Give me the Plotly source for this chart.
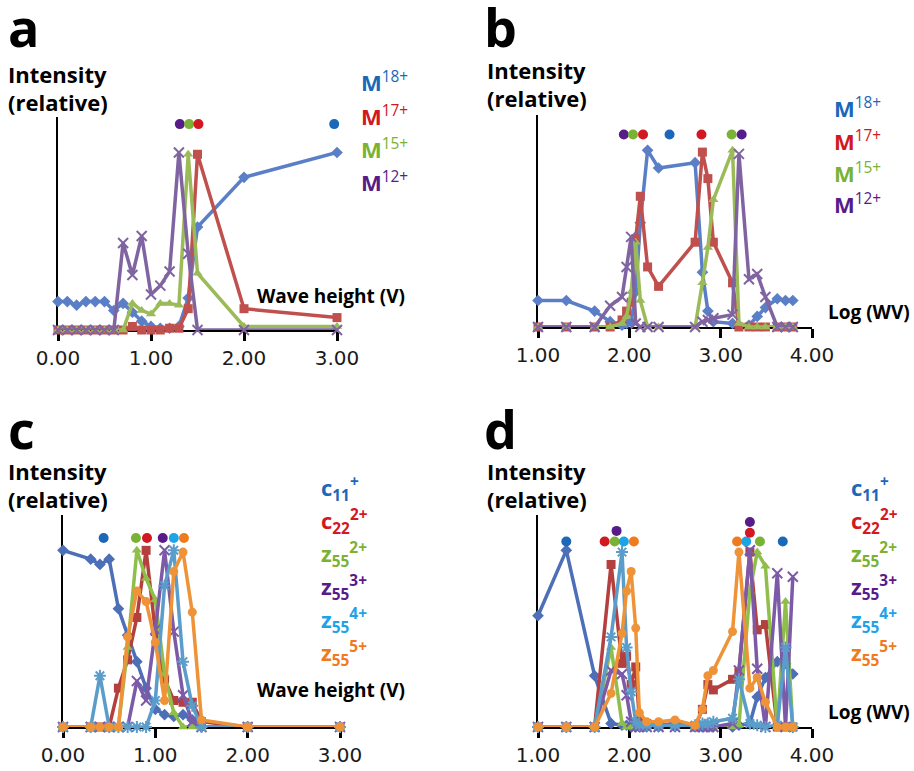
import plotly.graph_objects as go

W, H = 914, 771

# ---------------- data ----------------
# Panel a: intact-protein charge states vs wave height (V)
XA = [0, 0.1, 0.2, 0.3, 0.4, 0.5, 0.6, 0.7, 0.8, 0.9, 1.0, 1.1, 1.2, 1.3, 1.4, 1.5, 2.0, 3.0]
A_M18 = [0.16, 0.16, 0.14, 0.16, 0.16, 0.16, 0.11, 0.15, 0.10, 0.05, 0.02, 0.01, 0.01, 0.02, 0.18, 0.58, 0.86, 1.00]
A_M17 = [0, 0, 0, 0, 0, 0, 0, 0, 0.02, 0.0, 0.0, 0.0, 0.01, 0.01, 0.12, 0.99, 0.12, 0.07]
A_M15 = [0, 0, 0, 0, 0, 0, 0, 0, 0.15, 0.11, 0.09, 0.15, 0.15, 0.14, 0.99, 0.32, 0.02, 0.02]
A_M12 = [0, 0, 0, 0, 0, 0, 0, 0.49, 0.31, 0.53, 0.20, 0.25, 0.33, 1.00, 0.43, 0.0, 0.0, 0.0]
DOT_A_X = [1.31, 1.41, 1.51, 2.97]
DOT_A_Y = [1.16, 1.16, 1.16, 1.16]

# Panel b: same ions vs Log(WV)
XB = [1.00, 1.31, 1.62, 1.79, 1.92, 1.97, 2.02, 2.07, 2.12, 2.20, 2.32, 2.72, 2.80, 2.86, 2.92,
      3.13, 3.20, 3.31, 3.40, 3.49, 3.62, 3.71, 3.79]
B_M18 = [0.15, 0.15, 0.09, 0.03, 0.01, 0.02, 0.03, 0.20, 0.59, 1.00, 0.90, 0.93, 0.31, 0.09, 0.03,
         0.02, 0.01, 0.01, 0.06, 0.11, 0.16, 0.15, 0.15]
B_M17 = [0, 0, 0, 0, 0.04, 0.09, 0.14, 0.50, 0.74, 0.34, 0.23, 0.48, 0.99, 0.84, 0.48,
         0.25, 0.0, 0, 0, 0, 0, 0, 0]
B_M15 = [0, 0, 0, 0, 0.02, 0.06, 0.20, 0.48, 0.15, 0.0, 0.0, 0.0, 0.25, 0.45, 0.72,
         1.00, 0.02, 0, 0, 0, 0, 0, 0]
B_M12 = [0, 0, 0, 0.12, 0.17, 0.34, 0.51, 0.02, 0.0, 0.0, 0.0, 0.0, 0.03, 0.04, 0.05,
         0.07, 0.98, 0.27, 0.30, 0.17, 0.0, 0, 0]
DOT_B_X = [1.94, 2.04, 2.15, 2.44, 2.79, 3.12, 3.23]
DOT_B_Y = [1.09, 1.09, 1.09, 1.09, 1.09, 1.09, 1.09]

# Panel c: fragment ions vs wave height (V)
XC = [0, 0.3, 0.4, 0.5, 0.6, 0.7, 0.8, 0.9, 1.0, 1.1, 1.2, 1.3, 1.4, 1.5, 2.0, 3.0]
C_C11 = [1.00, 0.95, 0.92, 0.95, 0.67, 0.52, 0.37, 0.22, 0.10, 0.07, 0.06, 0.07, 0.04, 0.0, 0.0, 0.0]
C_C22 = [0, 0, 0, 0, 0.22, 0.38, 0.62, 1.00, 0.54, 0.27, 0.15, 0.14, 0.14, 0.03, 0.0, 0.0]
C_Z2 = [0, 0, 0, 0, 0.0, 0.45, 1.00, 0.84, 0.72, 0.30, 0.08, 0.0, 0.0, 0.0, 0.0, 0.0]
C_Z3 = [0, 0, 0, 0, 0, 0.0, 0.26, 0.15, 0.55, 1.00, 0.54, 0.18, 0.03, 0.0, 0.0, 0.0]
C_Z4 = [0, 0, 0.29, 0, 0, 0, 0, 0, 0.15, 0.80, 1.00, 0.37, 0.12, 0.0, 0.0, 0.0]
C_Z5 = [0, 0, 0, 0, 0.0, 0.51, 0.77, 0.71, 0.48, 0.15, 0.88, 0.99, 0.65, 0.04, 0.0, 0.0]
DOT_C_X = [0.44, 0.79, 0.91, 1.08, 1.20, 1.31]
DOT_C_Y = [1.07, 1.07, 1.07, 1.07, 1.07, 1.07]

# Panel d: fragment ions vs Log(WV)
XD = [1.00, 1.31, 1.62, 1.80, 1.92, 1.97, 2.02, 2.07, 2.11, 2.19, 2.32, 2.50, 2.72, 2.80, 2.86,
      2.92, 3.13, 3.20, 3.32, 3.40, 3.49, 3.62, 3.71, 3.79]
D_C11 = [0.63, 1.00, 0.29, 0.02, 0.01, 0.01, 0.0, 0.0, 0.0, 0.0, 0.0, 0.0, 0.0, 0.0, 0.0,
         0.0, 0.0, 0.01, 0.02, 0.17, 0.28, 0.37, 0.36, 0.30]
D_C22 = [0, 0, 0, 0.92, 0.36, 0.40, 0.24, 0.34, 0.04, 0.02, 0.01, 0.02, 0.0, 0.10, 0.24,
         0.21, 0.27, 0.31, 0.99, 0.55, 0.58, 0.0, 0.0, 0.0]
D_Z2 = [0, 0, 0, 0.45, 0.02, 0.0, 0.0, 0.0, 0.0, 0.0, 0.0, 0.0, 0.0, 0.0, 0.0,
        0.0, 0.0, 0.01, 0.77, 0.99, 0.91, 0.0, 0.71, 0.0]
D_Z3 = [0, 0, 0, 0.32, 0.30, 0.18, 0.03, 0.0, 0.0, 0.0, 0.0, 0.0, 0.0, 0.0, 0.0,
        0.0, 0.02, 0.32, 1.00, 0.33, 0.0, 0.87, 0.0, 0.85]
D_Z4 = [0, 0, 0, 0.51, 0.99, 0.45, 0.20, 0.03, 0.01, 0.01, 0.01, 0.01, 0.01, 0.02, 0.02,
        0.03, 0.05, 0.27, 0.02, 0.01, 0.0, 0.01, 0.45, 0.0]
D_Z5 = [0, 0, 0, 0.19, 0.53, 0.77, 0.88, 0.56, 0.08, 0.03, 0.03, 0.04, 0.01, 0.10, 0.29,
        0.32, 0.54, 0.99, 0.22, 0.28, 0.14, 0.0, 0.0, 0.0]
DOT_D_X = [1.31, 1.73, 1.84, 1.94, 2.05, 1.86, 3.18, 3.28, 3.43, 3.68, 3.32, 3.32]
DOT_D_Y = [1.05, 1.05, 1.05, 1.05, 1.05, 1.11, 1.05, 1.05, 1.05, 1.05, 1.10, 1.16]

TICKS_WAVE = [0, 1, 2, 3]
TICKS_LOG = [1, 2, 3, 4]
M_LABELS = ["18+", "17+", "15+", "12+"]
FRAG_LABELS = [("c", "11", "+"), ("c", "22", "2+"), ("z", "55", "2+"),
               ("z", "55", "3+"), ("z", "55", "4+"), ("z", "55", "5+")]

# ---------------- styles ----------------
LINE_AB = ["#5b7fc7", "#c0504d", "#9bbb59", "#8064a2"]
LINE_CD = ["#4d6fb8", "#b3403e", "#8fbf4a", "#7c5aa8", "#5b9dca", "#ee9338"]
SYM_AB = ["diamond", "square", "triangle-up", "x-thin"]
SYM_CD = ["diamond", "square", "triangle-up", "x-thin", "asterisk", "circle"]
KEY = {"blue": "#1b68b8", "red": "#d21820", "green": "#7ab233",
       "purple": "#571c88", "lblue": "#1ea3e6", "orange": "#f07a1c"}
KEY_AB = [KEY["blue"], KEY["red"], KEY["green"], KEY["purple"]]
KEY_CD = [KEY["blue"], KEY["red"], KEY["green"], KEY["purple"], KEY["lblue"], KEY["orange"]]
DOT_A_C = [KEY["purple"], KEY["green"], KEY["red"], KEY["blue"]]
DOT_B_C = [KEY["purple"], KEY["green"], KEY["red"], KEY["blue"], KEY["red"], KEY["green"], KEY["purple"]]
DOT_C_C = [KEY["blue"], KEY["green"], KEY["red"], KEY["purple"], KEY["lblue"], KEY["orange"]]
DOT_D_C = [KEY["blue"], KEY["red"], KEY["green"], KEY["lblue"], KEY["orange"], KEY["purple"],
           KEY["orange"], KEY["lblue"], KEY["green"], KEY["blue"], KEY["red"], KEY["purple"]]

LABEL_FONT = "Open Sans"
TICK_FONT = "DejaVu Sans"


def px(x):
    return x / W


def py(y):
    return 1 - y / H


fig = go.Figure()


def add_series(xs, ys, color, symbol, axis_idx):
    sfx = "" if axis_idx == 1 else str(axis_idx)
    thin = symbol in ("x-thin", "asterisk")
    fig.add_trace(go.Scatter(
        x=xs, y=ys, mode="lines+markers", xaxis="x" + sfx, yaxis="y" + sfx,
        line=dict(color=color, width=3.5),
        marker=dict(symbol=symbol, size=10 if thin else 9, color=color,
                    line=dict(color=color, width=2 if thin else 0)),
        cliponaxis=False, showlegend=False, hoverinfo="skip"))


def add_dots(xs, ys, colors, axis_idx):
    sfx = "" if axis_idx == 1 else str(axis_idx)
    fig.add_trace(go.Scatter(
        x=xs, y=ys, mode="markers", xaxis="x" + sfx, yaxis="y" + sfx,
        marker=dict(size=10, color=colors), cliponaxis=False,
        showlegend=False, hoverinfo="skip"))


for ys, c, s in zip([A_M18, A_M17, A_M15, A_M12], LINE_AB, SYM_AB):
    add_series(XA, ys, c, s, 1)
add_dots(DOT_A_X, DOT_A_Y, DOT_A_C, 1)

for ys, c, s in zip([B_M18, B_M17, B_M15, B_M12], LINE_AB, SYM_AB):
    add_series(XB, ys, c, s, 2)
add_dots(DOT_B_X, DOT_B_Y, DOT_B_C, 2)

for ys, c, s in zip([C_C11, C_C22, C_Z2, C_Z3, C_Z4, C_Z5], LINE_CD, SYM_CD):
    add_series(XC, ys, c, s, 3)
add_dots(DOT_C_X, DOT_C_Y, DOT_C_C, 3)

for ys, c, s in zip([D_C11, D_C22, D_Z2, D_Z3, D_Z4, D_Z5], LINE_CD, SYM_CD):
    add_series(XD, ys, c, s, 4)
add_dots(DOT_D_X, DOT_D_Y, DOT_D_C, 4)


def xaxis(x0, x1, rng, ticks, anchor):
    return dict(domain=[px(x0), px(x1)], range=rng, anchor=anchor,
                tickvals=ticks, ticktext=["%.2f" % t for t in ticks],
                showline=True, linecolor="black", linewidth=2,
                ticks="outside", ticklen=9, tickwidth=3, tickcolor="black",
                tickfont=dict(family=TICK_FONT, size=20, color="#1a1a1a"),
                showgrid=False, zeroline=False, layer="below traces",
                automargin=False, fixedrange=True)


def yaxis(y0, y1, anchor):
    return dict(domain=[py(y1), py(y0)], range=[0, 1.2], anchor=anchor,
                showline=True, linecolor="black", linewidth=2,
                ticks="", showticklabels=False, showgrid=False, zeroline=False,
                layer="below traces", automargin=False, fixedrange=True)


annotations = []


def text(x, y, s, size, color="black", xanchor="left"):
    annotations.append(dict(x=px(x), y=py(y), xref="paper", yref="paper", text=s,
                            showarrow=False, xanchor=xanchor, yanchor="middle",
                            font=dict(family=LABEL_FONT, size=size, color=color)))


# panel letters and axis captions
for lx, ly, letter in [(6, 27, "a"), (482, 27, "b"), (6, 428, "c"), (482, 428, "d")]:
    text(lx, ly, "<b>%s</b>" % letter, 52)
for lx, ly in [(6, 74), (485, 70), (6, 471), (485, 471)]:
    text(lx, ly, "<b>Intensity</b>", 22)
    text(lx, ly + 28, "<b>(relative)</b>", 22)
text(407, 296, "<b>Wave height (V)</b>", 19, xanchor="right")
text(407, 690, "<b>Wave height (V)</b>", 19, xanchor="right")
text(912, 312, "<b>Log (WV)</b>", 19, xanchor="right")
text(912, 712, "<b>Log (WV)</b>", 19, xanchor="right")

# ion keys
for i, (lab, col) in enumerate(zip(M_LABELS, KEY_AB)):
    text(359, 82 + 33 * i, "<b>M</b><sup>%s</sup>" % lab, 22, col)
    text(832, 108 + 32 * i, "<b>M</b><sup>%s</sup>" % lab, 22, col)
for i, ((a, sub, sup), col) in enumerate(zip(FRAG_LABELS, KEY_CD)):
    s = "<b>%s</b><sub><b>%s</b></sub><sup><b>%s</b></sup>" % (a, sub, sup)
    text(319, 488 + 33 * i, s, 22, col)
    text(849, 488 + 33 * i, s, 22, col)

fig.update_layout(
    width=W, height=H, autosize=False,
    margin=dict(l=0, r=0, t=0, b=0, pad=0, autoexpand=False),
    paper_bgcolor="white", plot_bgcolor="white", showlegend=False,
    xaxis=xaxis(58, 337, [0, 3], TICKS_WAVE, "y"),
    yaxis=yaxis(117, 330, "x"),
    xaxis2=xaxis(538, 812, [1, 4], TICKS_LOG, "y2"),
    yaxis2=yaxis(115, 327, "x2"),
    xaxis3=xaxis(63, 340, [0, 3], TICKS_WAVE, "y3"),
    yaxis3=yaxis(515, 727, "x3"),
    xaxis4=xaxis(538, 812, [1, 4], TICKS_LOG, "y4"),
    yaxis4=yaxis(515, 727, "x4"),
    annotations=annotations,
)

fig.write_html("out.html")
